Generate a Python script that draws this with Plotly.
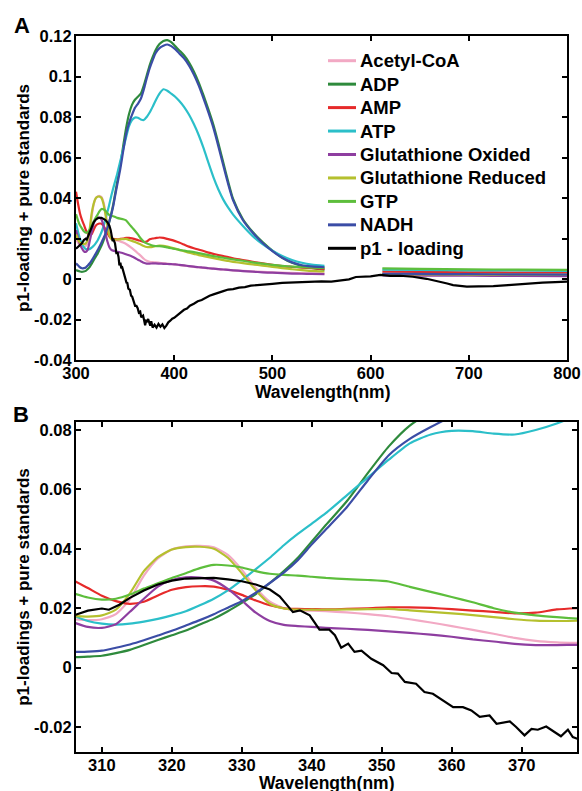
import plotly.graph_objects as go

# ---------------- data ----------------
WL_STD = [300, 302, 304, 306, 308, 310, 312, 314, 316, 318,
          320, 322, 324, 326, 328, 330, 332, 334, 336, 338,
          340, 342, 345, 348, 351, 354, 357, 360, 363, 366,
          369, 372, 375, 378, 381, 385, 389, 393, 397, 401,
          405, 410, 415, 420, 425, 430, 435, 440, 445, 450,
          455, 460, 470, 480, 490, 500, 510, 520, 530, 540,
          553, 580, 612, 650, 700, 750, 800]

ACETYL_COA = [0.0195, 0.0180, 0.0168, 0.0163, 0.0160, 0.0163, 0.0180, 0.0230, 0.0310, 0.0368,
              0.0398, 0.0408, 0.0410, 0.0405, 0.0380, 0.0330, 0.0268, 0.0222, 0.0200, 0.0193,
              0.0192, 0.0190, 0.0186, 0.0180, 0.0173, 0.0163, 0.0152, 0.0140, 0.0127, 0.0114,
              0.0100, 0.0090, 0.0085, 0.0083, 0.0082, 0.0080, 0.0078, 0.0076, 0.0074, 0.0072,
              0.0069, 0.0066, 0.0063, 0.0060, 0.0058, 0.0055, 0.0053, 0.0051, 0.0049, 0.0047,
              0.0045, 0.0043, 0.0040, 0.0037, 0.0035, 0.0033, 0.0031, 0.0030, 0.0029, 0.0028,
              0.0027, None, 0.0022, 0.0021, 0.0020, 0.0019, 0.0018]

ADP = [0.0044, 0.0040, 0.0037, 0.0035, 0.0037, 0.0040, 0.0049, 0.0060, 0.0076, 0.0093,
       0.0109, 0.0125, 0.0145, 0.0165, 0.0190, 0.0218, 0.0248, 0.0285, 0.0325, 0.0370,
       0.0425, 0.0480, 0.0560, 0.0655, 0.0745, 0.0815, 0.0860, 0.0885, 0.0900, 0.0915,
       0.0955, 0.1005, 0.1055, 0.1095, 0.1130, 0.1160, 0.1175, 0.1180, 0.1170, 0.1150,
       0.1130, 0.1105, 0.1070, 0.1025, 0.0970, 0.0905, 0.0835, 0.0760, 0.0670, 0.0575,
       0.0480, 0.0395, 0.0295, 0.0232, 0.0182, 0.0140, 0.0105, 0.0080, 0.0065, 0.0055,
       0.0045, None, 0.0023, 0.0022, 0.0021, 0.0020, 0.0019]

AMP = [0.0431, 0.0374, 0.0325, 0.0293, 0.0268, 0.0242, 0.0224, 0.0215, 0.0222, 0.0243,
       0.0262, 0.0271, 0.0274, 0.0273, 0.0262, 0.0245, 0.0226, 0.0210, 0.0200, 0.0198,
       0.0197, 0.0196, 0.0198, 0.0200, 0.0203, 0.0203, 0.0201, 0.0197, 0.0192, 0.0188,
       0.0183, 0.0185, 0.0196, 0.0200, 0.0202, 0.0205, 0.0203, 0.0198, 0.0193, 0.0187,
       0.0180, 0.0170, 0.0160, 0.0152, 0.0145, 0.0138, 0.0130, 0.0124, 0.0118, 0.0113,
       0.0108, 0.0102, 0.0094, 0.0085, 0.0077, 0.0070, 0.0064, 0.0060, 0.0056, 0.0053,
       0.0050, None, 0.0036, 0.0035, 0.0033, 0.0032, 0.0031]

ATP = [0.0275, 0.0235, 0.0200, 0.0175, 0.0157, 0.0148, 0.0145, 0.0148, 0.0155, 0.0164,
       0.0176, 0.0190, 0.0210, 0.0232, 0.0260, 0.0295, 0.0332, 0.0370, 0.0412, 0.0450,
       0.0485, 0.0520, 0.0580, 0.0640, 0.0700, 0.0755, 0.0785, 0.0797, 0.0796, 0.0788,
       0.0785, 0.0800, 0.0822, 0.0850, 0.0880, 0.0915, 0.0937, 0.0930, 0.0915, 0.0900,
       0.0880, 0.0850, 0.0812, 0.0765, 0.0710, 0.0645, 0.0572, 0.0502, 0.0442, 0.0392,
       0.0352, 0.0318, 0.0262, 0.0212, 0.0172, 0.0140, 0.0114, 0.0094, 0.0080, 0.0071,
       0.0065, None, 0.0046, 0.0045, 0.0043, 0.0042, 0.0040]

GLUTATHIONE_OX = [0.0242, 0.0205, 0.0170, 0.0152, 0.0137, 0.0134, 0.0146, 0.0188, 0.0232, 0.0273,
                  0.0295, 0.0304, 0.0303, 0.0293, 0.0265, 0.0226, 0.0185, 0.0157, 0.0144, 0.0140,
                  0.0137, 0.0134, 0.0131, 0.0127, 0.0122, 0.0117, 0.0111, 0.0104, 0.0095, 0.0088,
                  0.0080, 0.0076, 0.0076, 0.0077, 0.0077, 0.0076, 0.0075, 0.0074, 0.0073, 0.0072,
                  0.0070, 0.0067, 0.0064, 0.0061, 0.0058, 0.0056, 0.0053, 0.0051, 0.0049, 0.0047,
                  0.0045, 0.0043, 0.0039, 0.0036, 0.0033, 0.0031, 0.0029, 0.0027, 0.0026, 0.0025,
                  0.0024, None, 0.0018, 0.0017, 0.0016, 0.0015, 0.0014]

GLUTATHIONE_RED = [0.0220, 0.0195, 0.0180, 0.0174, 0.0172, 0.0176, 0.0195, 0.0250, 0.0325, 0.0372,
                   0.0398, 0.0406, 0.0407, 0.0400, 0.0370, 0.0318, 0.0260, 0.0215, 0.0199, 0.0195,
                   0.0195, 0.0195, 0.0196, 0.0197, 0.0198, 0.0193, 0.0188, 0.0183, 0.0177, 0.0170,
                   0.0163, 0.0158, 0.0157, 0.0158, 0.0162, 0.0165, 0.0164, 0.0160, 0.0155, 0.0150,
                   0.0144, 0.0137, 0.0130, 0.0124, 0.0118, 0.0113, 0.0108, 0.0103, 0.0098, 0.0093,
                   0.0089, 0.0085, 0.0078, 0.0072, 0.0066, 0.0060, 0.0054, 0.0048, 0.0044, 0.0040,
                   0.0037, None, 0.0024, 0.0023, 0.0022, 0.0021, 0.0020]

GTP = [0.0320, 0.0290, 0.0265, 0.0250, 0.0236, 0.0229, 0.0232, 0.0246, 0.0266, 0.0284,
       0.0302, 0.0318, 0.0335, 0.0346, 0.0344, 0.0337, 0.0325, 0.0316, 0.0312, 0.0310,
       0.0306, 0.0302, 0.0298, 0.0295, 0.0290, 0.0272, 0.0255, 0.0238, 0.0220, 0.0200,
       0.0185, 0.0176, 0.0170, 0.0165, 0.0163, 0.0162, 0.0160, 0.0156, 0.0152, 0.0148,
       0.0144, 0.0140, 0.0136, 0.0133, 0.0128, 0.0123, 0.0118, 0.0113, 0.0109, 0.0105,
       0.0101, 0.0097, 0.0090, 0.0082, 0.0076, 0.0070, 0.0065, 0.0061, 0.0058, 0.0056,
       0.0055, None, 0.0052, 0.0050, 0.0048, 0.0046, 0.0045]

NADH = [0.0077, 0.0068, 0.0058, 0.0053, 0.0054, 0.0057, 0.0067, 0.0078, 0.0092, 0.0108,
        0.0124, 0.0142, 0.0160, 0.0180, 0.0202, 0.0224, 0.0252, 0.0285, 0.0320, 0.0362,
        0.0415, 0.0465, 0.0540, 0.0630, 0.0715, 0.0770, 0.0810, 0.0845, 0.0865, 0.0890,
        0.0935, 0.0990, 0.1040, 0.1080, 0.1115, 0.1140, 0.1152, 0.1158, 0.1150, 0.1135,
        0.1115, 0.1090, 0.1055, 0.1010, 0.0955, 0.0890, 0.0820, 0.0745, 0.0655, 0.0560,
        0.0468, 0.0388, 0.0290, 0.0228, 0.0178, 0.0138, 0.0105, 0.0082, 0.0068, 0.0062,
        0.0058, None, 0.0026, 0.0025, 0.0024, 0.0023, 0.0022]

WL_P1 = [300, 302, 304, 306, 308, 310, 311, 312.5, 314, 316,
         318, 320, 322, 324, 326, 328, 330, 332, 334, 335.4,
         336.4, 337.3, 338.3, 339.7, 341.1, 342.5, 343.3, 344.2, 345.2, 346.1,
         347.1, 348.5, 350.2, 351.4, 352.3, 353.3, 354.9, 356.1, 357.3, 358.7,
         360.2, 361.6, 362.8, 364, 365.4, 366.4, 368.3, 369.2, 370.4, 371.4,
         372.3, 373.5, 374.9, 375.6, 376.6, 377.3, 378, 380, 382, 384,
         386, 388, 390, 392, 394, 396, 398, 400, 403, 406,
         410, 413, 416, 420, 424, 428, 432, 436, 440, 445,
         450, 455, 460, 466, 472, 478, 485, 492, 500, 510,
         520, 530, 540, 550, 560, 570, 578, 585, 592, 600,
         610, 620, 630, 643, 657, 664, 671, 678, 684, 691,
         698, 710, 725, 740, 752, 765, 775, 788, 800]

P1_LOADING = [0.0150, 0.0158, 0.0167, 0.0176, 0.0192, 0.0199, 0.0195, 0.0212, 0.0235, 0.0260,
              0.0280, 0.0293, 0.0300, 0.0302, 0.0302, 0.0297, 0.0291, 0.0280, 0.0263, 0.0240,
              0.0214, 0.0187, 0.0193, 0.0176, 0.0128, 0.0128, 0.0109, 0.0067, 0.0081, 0.0053,
              0.0057, 0.0030, 0.0008, -0.0018, -0.0020, -0.0048, -0.0054, -0.0082, -0.0088, -0.0110,
              -0.0133, -0.0133, -0.0144, -0.0166, -0.0161, -0.0189, -0.0181, -0.0200, -0.0228, -0.0206,
              -0.0209, -0.0198, -0.0222, -0.0231, -0.0209, -0.0234, -0.0240, -0.0226, -0.0240, -0.0222,
              -0.0236, -0.0224, -0.0242, -0.0230, -0.0214, -0.0206, -0.0196, -0.0192, -0.0180, -0.0172,
              -0.0152, -0.0146, -0.0132, -0.0122, -0.0110, -0.0104, -0.0092, -0.0083, -0.0076, -0.0066,
              -0.0060, -0.0052, -0.0050, -0.0043, -0.0040, -0.0033, -0.0031, -0.0026, -0.0024, -0.0019,
              -0.0017, -0.0015, -0.0014, -0.0012, -0.0013, -0.0008, -0.0002, 0.0010, 0.0011, 0.0013,
              0.0020, 0.0015, 0.0016, 0.0011, 0.0001, -0.0006, -0.0013, -0.0022, -0.0030, -0.0034,
              -0.0038, -0.0036, -0.0035, -0.0030, -0.0025, -0.0022, -0.0018, -0.0015, -0.0013]

SERIES_NAMES = ["Acetyl-CoA", "ADP", "AMP", "ATP", "Glutathione Oxided",
                "Glutathione Reduced", "GTP", "NADH"]
SERIES_VALUES = [ACETYL_COA, ADP, AMP, ATP, GLUTATHIONE_OX, GLUTATHIONE_RED, GTP, NADH]
SERIES_COLORS = ["#F2A9C4", "#2E8A3C", "#E62A2A", "#2BBFC9", "#8E3EA0",
                 "#B5C02E", "#5DBE3C", "#3B4DA6"]
P1_NAME = "p1 - loading"

A_XTICKS = [300, 400, 500, 600, 700, 800]
A_YTICKS = [-0.04, -0.02, 0, 0.02, 0.04, 0.06, 0.08, 0.1, 0.12]
A_YTICKTEXT = ["-0.04", "-0.02", "0", "0.02", "0.04", "0.06", "0.08", "0.1", "0.12"]
B_XTICKS = [310, 320, 330, 340, 350, 360, 370]
B_YTICKS = [-0.02, 0, 0.02, 0.04, 0.06, 0.08]
B_YTICKTEXT = ["-0.02", "0", "0.02", "0.04", "0.06", "0.08"]

# ---------------- figure ----------------
W, H = 582, 791
FONT = "Liberation Sans, Arial, Helvetica, sans-serif"


def px_x(p):
    return p / W


def px_y(p):
    return 1 - p / H


fig = go.Figure()

for name, vals, col in zip(SERIES_NAMES, SERIES_VALUES, SERIES_COLORS):
    fig.add_trace(go.Scatter(x=WL_STD, y=vals, mode="lines", name=name,
                             line=dict(color=col, width=2.2, shape="spline", smoothing=0.6),
                             connectgaps=False, legendgroup=name, showlegend=False,
                             xaxis="x", yaxis="y"))
fig.add_trace(go.Scatter(x=WL_P1, y=P1_LOADING, mode="lines", name=P1_NAME,
                         line=dict(color="black", width=2.2), legendgroup=P1_NAME,
                         showlegend=False, xaxis="x", yaxis="y"))

for name, vals, col in zip(SERIES_NAMES, SERIES_VALUES, SERIES_COLORS):
    fig.add_trace(go.Scatter(x=WL_STD, y=vals, mode="lines", name=name,
                             line=dict(color=col, width=2.2, shape="spline", smoothing=0.6),
                             connectgaps=False, legendgroup=name, showlegend=False,
                             xaxis="x2", yaxis="y2"))
fig.add_trace(go.Scatter(x=WL_P1, y=P1_LOADING, mode="lines", name=P1_NAME,
                         line=dict(color="black", width=2.2), legendgroup=P1_NAME,
                         showlegend=False, xaxis="x2", yaxis="y2"))

tickfont = dict(family=FONT, size=16.5, color="black", weight="bold")
xtitlefont = dict(family=FONT, size=17.5, color="black", weight="bold")
ytitlefont = dict(family=FONT, size=17, color="black", weight="bold")
common = dict(showline=True, linecolor="black", linewidth=2, mirror="allticks",
              ticks="inside", ticklen=5, tickwidth=2, tickcolor="black",
              showgrid=False, zeroline=False, tickfont=tickfont, automargin=False)

# manual legend (line sample + real text), MATLAB style
legend_names = SERIES_NAMES + [P1_NAME]
legend_colors = SERIES_COLORS + ["black"]
shapes = []
annotations = []
for i, (nm, col) in enumerate(zip(legend_names, legend_colors)):
    yc = 60.7 + 23.45 * i
    shapes.append(dict(type="line", xref="paper", yref="paper",
                       x0=px_x(328), x1=px_x(356), y0=px_y(yc), y1=px_y(yc),
                       line=dict(color=col, width=3)))
    annotations.append(dict(text=nm, x=px_x(358), y=px_y(yc), xref="paper", yref="paper",
                            xanchor="left", yanchor="middle", showarrow=False,
                            font=dict(family=FONT, size=18.5, color="black", weight="bold")))

annotations += [
    dict(text="A", x=px_x(22), y=px_y(25), xref="paper", yref="paper",
         xanchor="center", yanchor="middle",
         showarrow=False, font=dict(family=FONT, size=22, color="black", weight="bold")),
    dict(text="B", x=px_x(20.5), y=px_y(414), xref="paper", yref="paper",
         xanchor="center", yanchor="middle",
         showarrow=False, font=dict(family=FONT, size=22, color="black", weight="bold")),
    dict(text="Wavelength(nm)", x=px_x(322), y=px_y(392), xref="paper", yref="paper",
         xanchor="center", yanchor="middle", showarrow=False, font=xtitlefont),
    dict(text="Wavelength(nm)", x=px_x(326), y=px_y(783), xref="paper", yref="paper",
         xanchor="center", yanchor="middle", showarrow=False, font=xtitlefont),
]

fig.update_layout(
    width=W, height=H,
    paper_bgcolor="white", plot_bgcolor="white",
    margin=dict(l=0, r=0, t=0, b=0),
    font=dict(family=FONT, color="black"),
    showlegend=False,
    xaxis=dict(domain=[px_x(76), px_x(567)], range=[300, 800], anchor="y",
               tickvals=A_XTICKS, ticktext=[str(v) for v in A_XTICKS],
               ticklabelstandoff=-3, **common),
    yaxis=dict(domain=[px_y(360), px_y(36)], range=[-0.04, 0.12], anchor="x",
               tickvals=A_YTICKS, ticktext=A_YTICKTEXT, ticklabelstandoff=-1,
               title=dict(text="p1-loading + pure standards", font=ytitlefont, standoff=0), **common),
    xaxis2=dict(domain=[px_x(76), px_x(577)], range=[306.3, 377.9], anchor="y2",
                tickvals=B_XTICKS, ticktext=[str(v) for v in B_XTICKS],
                ticklabelstandoff=-3, **common),
    yaxis2=dict(domain=[px_y(752), px_y(422)], range=[-0.0284, 0.0827], anchor="x2",
                tickvals=B_YTICKS, ticktext=B_YTICKTEXT, ticklabelstandoff=-1,
                title=dict(text="p1-loadings + pure standards", font=ytitlefont, standoff=0), **common),
    shapes=shapes,
    annotations=annotations,
)

fig.write_html("out.html",
               config={"displayModeBar": False},
               post_script="document.body.style.margin='0px';document.body.style.padding='0px';")
